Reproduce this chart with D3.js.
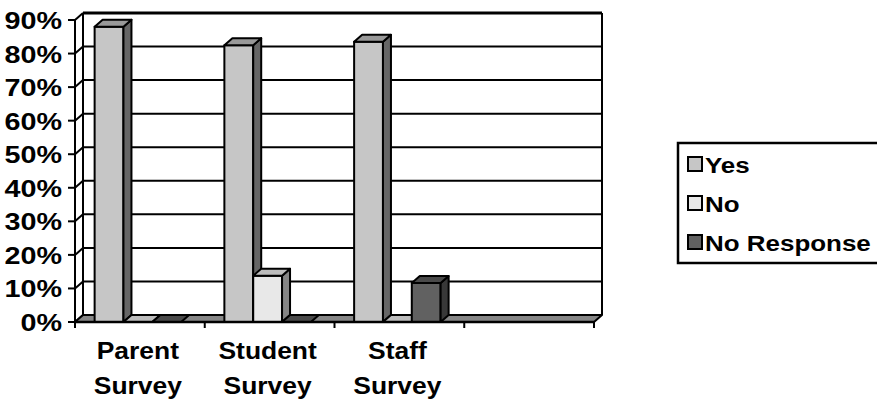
<!DOCTYPE html>
<html>
<head>
<meta charset="utf-8">
<script src="https://cdn.jsdelivr.net/npm/d3@7"></script>
<style>
  html, body { margin: 0; padding: 0; background: #fff; }
  svg { display: block; }
  text { font-family: "Liberation Sans", Arial, sans-serif; font-weight: bold; fill: #000; }
</style>
</head>
<body>
<svg id="chart" width="877" height="400"></svg>
<script>
// Survey response shares by survey group
const categories = ["Parent Survey", "Student Survey", "Staff Survey", ""];
const seriesNames = ["Yes", "No", "No Response"];
const yesValues = [0.88, 0.825, 0.835, null];
const noValues = [0, 0.138, 0, null];
const noResponseValues = [0, 0, 0.116, null];
const yTickValues = [0, 0.1, 0.2, 0.3, 0.4, 0.5, 0.6, 0.7, 0.8, 0.9];

const seriesValues = [yesValues, noValues, noResponseValues];
// face shades per series: front, side, top
const faceColors = [
  { front: "#c6c6c6", side: "#666666", top: "#999999" },
  { front: "#e8e8e8", side: "#858585", top: "#bdbdbd" },
  { front: "#616161", side: "#383838", top: "#4a4a4a" }
];
const floorColor = "#868686";

const svg = d3.select("#chart");

// 3D frame geometry
const x0 = 75, x1 = 594, yBase = 322, yTop = 20;
const DX = 8, DY = -7;

const x = d3.scaleBand().domain(categories).range([x0, x1]).paddingInner(0).paddingOuter(0);
const y = d3.scaleLinear().domain([0, 0.9]).range([yBase, yTop]);
const barW = x.bandwidth() / 4.5;
const xs = d3.scaleBand().domain(seriesNames).range([0, 3 * barW]);

function stretchedText(g, tx, ty, str, anchor, size, sx) {
  return g.append("text")
    .attr("transform", `translate(${tx},${ty}) scale(${sx},1)`)
    .attr("text-anchor", anchor)
    .attr("dominant-baseline", "central")
    .style("font-size", size + "px")
    .text(str);
}

const grid = svg.append("g");
// gridlines: back wall + left wall diagonals
yTickValues.forEach(v => {
  const yy = y(v);
  if (v > 0) {
    grid.append("line")
      .attr("x1", x0 + DX).attr("y1", yy + DY)
      .attr("x2", x1 + DX).attr("y2", yy + DY)
      .attr("stroke", "#000").attr("stroke-width", v === 0.9 ? 3 : 2);
  }
  grid.append("line")
    .attr("x1", x0).attr("y1", yy)
    .attr("x2", x0 + DX).attr("y2", yy + DY)
    .attr("stroke", "#000").attr("stroke-width", 2);
});
// back wall left and right edges
grid.append("line").attr("x1", x0 + DX).attr("y1", y(0.9) + DY).attr("x2", x0 + DX).attr("y2", yBase + DY)
  .attr("stroke", "#000").attr("stroke-width", 2);
grid.append("line").attr("x1", x1 + DX).attr("y1", y(0.9) + DY).attr("x2", x1 + DX).attr("y2", yBase + DY)
  .attr("stroke", "#000").attr("stroke-width", 2);

// floor
svg.append("polygon")
  .attr("points", [[x0, yBase], [x0 + DX, yBase + DY], [x1 + DX, yBase + DY], [x1, yBase]].join(" "))
  .attr("fill", floorColor).attr("stroke", "#000").attr("stroke-width", 2).attr("stroke-linejoin", "round");

// bars
const bars = svg.append("g");
categories.forEach((cat, ci) => {
  seriesNames.forEach((s, si) => {
    const v = seriesValues[si][ci];
    if (v === null || v === undefined) return;
    const bx = x(cat) + 0.75 * barW - 2 + xs(s);
    const top = y(v);
    const c = faceColors[si];
    const g = bars.append("g").attr("stroke", "#000").attr("stroke-width", 2).attr("stroke-linejoin", "round");
    if (v > 0) {
      g.append("rect").attr("x", bx).attr("y", top).attr("width", barW).attr("height", yBase - top).attr("fill", c.front);
      g.append("polygon")
        .attr("points", [[bx + barW, top], [bx + barW + DX, top + DY], [bx + barW + DX, yBase + DY], [bx + barW, yBase]].join(" "))
        .attr("fill", c.side);
    }
    g.append("polygon")
      .attr("points", [[bx, top], [bx + DX, top + DY], [bx + barW + DX, top + DY], [bx + barW, top]].join(" "))
      .attr("fill", c.top);
  });
});

// front axes
const axes = svg.append("g").attr("stroke", "#000").attr("stroke-width", 2);
axes.append("line").attr("x1", x0).attr("y1", yTop).attr("x2", x0).attr("y2", yBase);
axes.append("line").attr("x1", x0).attr("y1", yBase).attr("x2", x1).attr("y2", yBase).attr("stroke-width", 2.5);
yTickValues.forEach(v => {
  axes.append("line").attr("x1", x0 - 7).attr("y1", y(v)).attr("x2", x0).attr("y2", y(v));
});
const catEdges = categories.map(c => x(c)).concat([x1]);
catEdges.forEach(ex => {
  axes.append("line").attr("x1", ex).attr("y1", yBase).attr("x2", ex).attr("y2", yBase + 6);
});

// tick labels
const fmt = d3.format(".0%");
const labels = svg.append("g");
yTickValues.forEach(v => {
  stretchedText(labels, 62, y(v) + 1, fmt(v), "end", 23, 1.25);
});
categories.forEach(cat => {
  if (!cat) return;
  const parts = cat.split(" ");
  const cx = x(cat) + x.bandwidth() / 2 - 2;
  parts.forEach((p, i) => stretchedText(labels, cx, 351 + i * 35, p, "middle", 23, 1.15));
});

// legend
const lg = svg.append("g");
lg.append("rect").attr("x", 678).attr("y", 143).attr("width", 240).attr("height", 120)
  .attr("fill", "#fff").attr("stroke", "#000").attr("stroke-width", 2.5);
seriesNames.forEach((s, i) => {
  const cy = 164 + i * 39;
  lg.append("rect").attr("x", 688).attr("y", cy - 7).attr("width", 14).attr("height", 14)
    .attr("fill", faceColors[i].front).attr("stroke", "#000").attr("stroke-width", 2);
  stretchedText(lg, 705, cy + 1, s, "start", 22, 1.18);
});
</script>
</body>
</html>
